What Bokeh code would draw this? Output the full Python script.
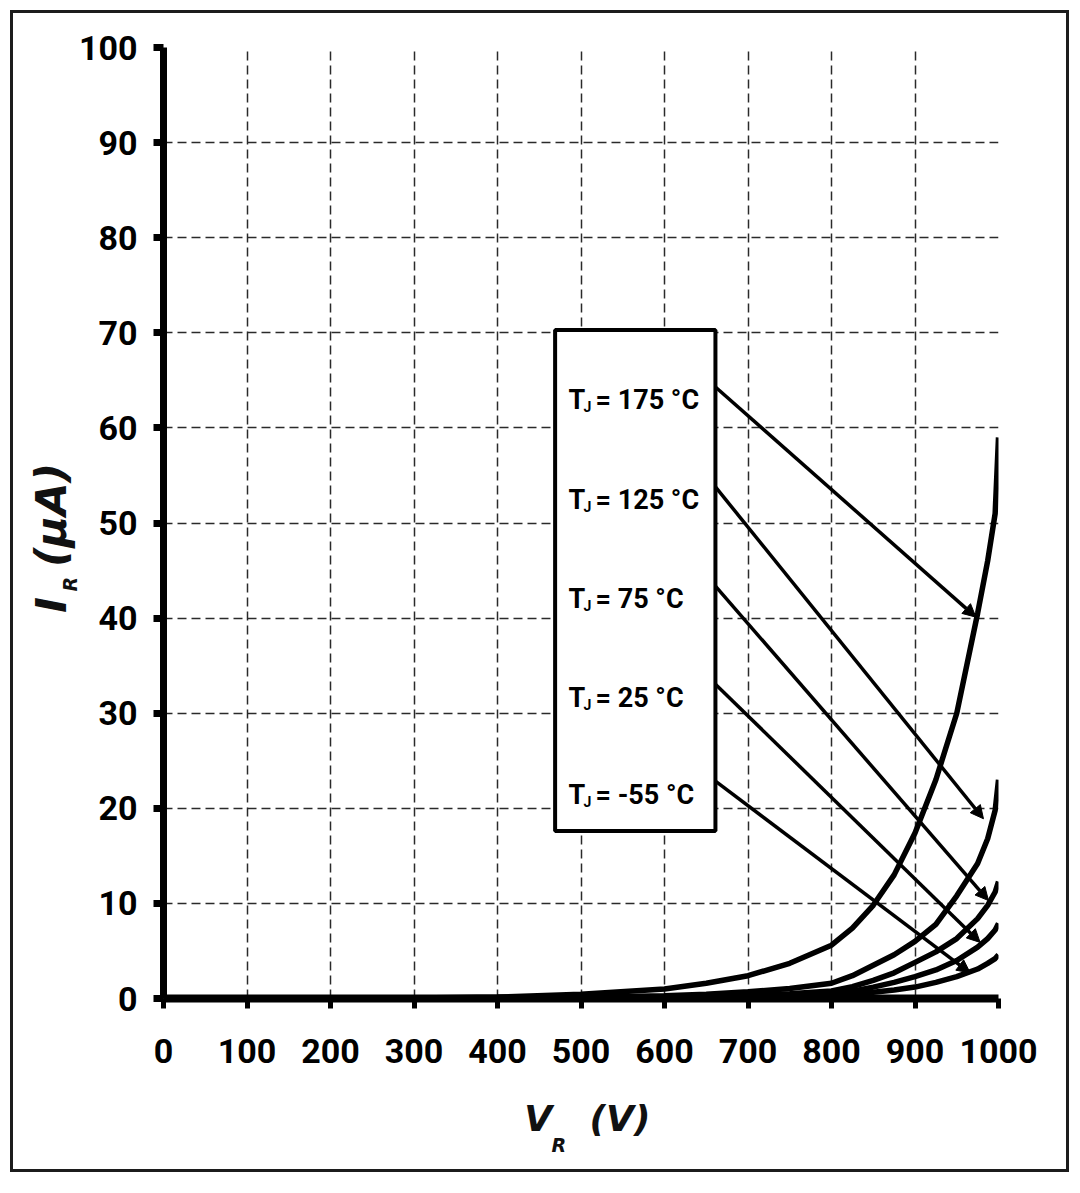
import math
from bokeh.plotting import figure
from bokeh.models import Range1d, Label, Arrow, NormalHead, FixedTicker
from bokeh.core.properties import value
from bokeh.embed import file_html
from bokeh.resources import INLINE

# ---- data ----
V = [0, 100, 200, 300, 400, 500, 600, 650, 700, 750, 800, 825, 850, 875, 900, 925, 950, 975, 987, 996, 1000]
I_175 = [0, 0.01, 0.02, 0.05, 0.15, 0.45, 1.0, 1.6, 2.4, 3.7, 5.6, 7.4, 9.8, 13.0, 17.4, 23.0, 30.0, 40.5, 46.0, 51.0, 59.0]
I_125 = [0, 0, 0.01, 0.02, 0.05, 0.12, 0.3, 0.45, 0.7, 1.05, 1.6, 2.4, 3.5, 4.6, 6.0, 7.8, 10.8, 14.2, 16.8, 19.8, 23.0]
I_75 = [0, 0, 0, 0.01, 0.02, 0.05, 0.12, 0.2, 0.32, 0.5, 0.8, 1.25, 1.9, 2.7, 3.8, 4.9, 6.3, 8.4, 9.8, 11.2, 12.3]
I_25 = [0, 0, 0, 0, 0.01, 0.03, 0.07, 0.12, 0.2, 0.32, 0.5, 0.78, 1.2, 1.7, 2.3, 3.0, 4.0, 5.4, 6.3, 7.2, 7.9]
I_m55 = [0, 0, 0, 0, 0, 0.01, 0.03, 0.06, 0.1, 0.18, 0.3, 0.45, 0.65, 0.9, 1.2, 1.7, 2.3, 3.1, 3.7, 4.2, 4.6]
series = [I_175, I_125, I_75, I_25, I_m55]
temps = ["175", "125", "75", "25", "-55"]

x_ticks = list(range(0, 1001, 100))
y_ticks = list(range(0, 101, 10))

# ---- annotation layout constants ----
label_x = 485.0
label_base = [62.9, 52.4, 41.96, 31.65, 21.45]
box = dict(left=469, right=661, bottom=17.6, top=70.3)
arrow_end_x = [973, 982, 988, 978, 966]
arrow_end_y = [40.1, 18.9, 10.3, 5.9, 2.7]

TICKF = "Roboto"
TITLEF = "'DejaVu Sans'"
NB = "\u00a0"

p = figure(width=1059, height=1162, output_backend="svg", toolbar_location=None,
           x_range=Range1d(0, 1000), y_range=Range1d(0, 100),
           min_border_left=150, min_border_right=74, min_border_top=34, min_border_bottom=177)
p.margin = (10, 0, 0, 10)
p.styles = {"border": "3px solid #1c1c1c"}
p.background_fill_color = "white"
p.border_fill_color = "white"
p.outline_line_color = None

p.xaxis.ticker = FixedTicker(ticks=x_ticks)
p.yaxis.ticker = FixedTicker(ticks=y_ticks)
for ax in (p.xaxis, p.yaxis):
    ax.axis_line_color = "black"
    ax.major_tick_line_color = "black"
    ax.minor_tick_line_color = None
    ax.major_tick_in = 0
    ax.major_tick_out = 10
    ax.major_label_text_font = TICKF
    ax.major_label_text_font_style = "bold"
    ax.major_label_text_font_size = "34px"
    ax.major_label_text_color = "black"
    ax.axis_label_text_font = TITLEF
    ax.axis_label_text_font_style = "bold italic"
    ax.axis_label_text_color = "#111111"
p.yaxis.axis_line_width = 7
p.xaxis.axis_line_width = 8
p.yaxis.major_tick_line_width = 7
p.xaxis.major_tick_line_width = 5
p.yaxis.major_label_standoff = 16
p.xaxis.major_label_standoff = 30
p.xaxis.axis_label = NB + "V" + NB * 3 + "(V)"
p.yaxis.axis_label = "I" + NB * 2 + "(µA)" + NB * 2
p.xaxis.axis_label_text_font_size = "36px"
p.yaxis.axis_label_text_font_size = "43px"
p.xaxis.axis_label_standoff = 32
p.yaxis.axis_label_standoff = 0

for g in (p.xgrid, p.ygrid):
    g.grid_line_color = "#2a2a2a"
    g.grid_line_width = 1.5
    g.grid_line_dash = "9 5"

# curves
for s in series:
    p.line(V, s, line_color="black", line_width=5.5)

# legend-like box
p.quad(left=[box["left"]], right=[box["right"]], bottom=[box["bottom"]], top=[box["top"]],
       fill_color="white", line_color="black", line_width=4)

p.text(x=[label_x] * 5, y=label_base, text=["T"] * 5,
       text_font=value(TICKF), text_font_size="27px", text_font_style="bold",
       text_baseline="alphabetic", text_align="left", text_color="black")
p.text(x=[label_x] * 5, y=label_base, text=["J"] * 5, x_offset=15, y_offset=7,
       text_font=value(TICKF), text_font_size="14px", text_font_style="bold",
       text_baseline="alphabetic", text_align="left", text_color="black")
p.text(x=[label_x] * 5, y=label_base, text=["= %s °C" % t for t in temps], x_offset=27,
       text_font=value(TICKF), text_font_size="27px", text_font_style="bold",
       text_baseline="alphabetic", text_align="left", text_color="black")

for i in range(5):
    p.add_layout(Arrow(end=NormalHead(size=13, fill_color="black", line_color="black", line_width=1),
                       x_start=box["right"], y_start=label_base[i] + 1.4,
                       x_end=arrow_end_x[i], y_end=arrow_end_y[i],
                       line_color="black", line_width=3.5))

# subscripts of the axis titles
def px2x(px):
    return (px - 163) / 0.835

def py2y(py):
    return (998 - py) / 9.51

sub = dict(text_font=TITLEF, text_font_style="bold italic", text_color="#111111",
           text_baseline="alphabetic", text_align="left", text_font_size="19px")
p.add_layout(Label(x=px2x(551), y=py2y(1144), text="R", **sub), "right")
p.add_layout(Label(x=px2x(69), y=py2y(591), text="R", angle=math.pi / 2, **sub), "right")

open("out.html", "w").write(file_html(p, INLINE))
